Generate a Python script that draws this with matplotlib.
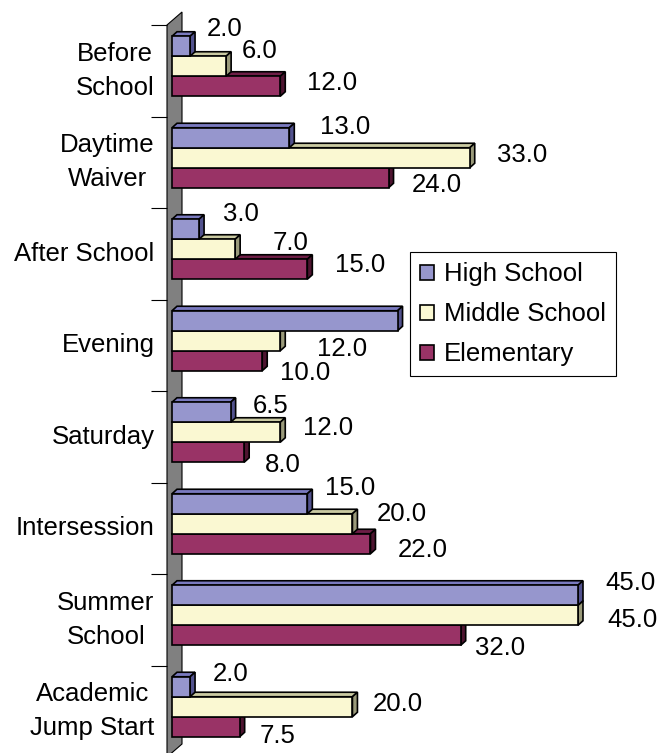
import numpy as np
import matplotlib
matplotlib.use("Agg")
from matplotlib import pyplot as plt
from matplotlib.patches import Polygon

plt.rcParams['font.family'] = ['Liberation Sans', 'DejaVu Sans']

categories = ["Before\nSchool", "Daytime\nWaiver", "After School", "Evening",
              "Saturday", "Intersession", "Summer\nSchool", "Academic\nJump Start"]
series = ["High School", "Middle School", "Elementary"]
high = [2.0, 13.0, 3.0, 25.0, 6.5, 15.0, 45.0, 2.0]
middle = [6.0, 33.0, 7.0, 12.0, 12.0, 20.0, 45.0, 20.0]
elem = [12.0, 24.0, 15.0, 10.0, 8.0, 22.0, 32.0, 7.5]

# label nudges in pixels (right, down) from the bar end / bar centre
nudge_high = [(17, -17), (31, -11), (24, -15), (25, -12), (22, -6), (18, -16), (27, -12), (23, -13)]
nudge_mid = [(16, -15), (27, -3), (37, -6), (37, 8), (23, -4), (24, -10), (29, 5), (20, -3)]
nudge_elem = [(27, -3), (23, 7), (28, -4), (18, 12), (21, 13), (27, 6), (14, 13), (20, 9)]
# the evening high school label sits behind the legend in the original
hidden = [(0, 3)]

# front, top, side colours
faces = [("#9696CD", "#7A7ABF", "#52528E"),
         ("#FAF8D2", "#CACAA2", "#9A9A7A"),
         ("#993366", "#6E1E46", "#4E1430")]

FS = 18.5
W, H = 657, 753
fig = plt.figure(figsize=(W / 100, H / 100), dpi=100)
left_px, top_px, bot_px = 167, 25, 757
ax = fig.add_axes([left_px / W, (H - bot_px) / H, (W - left_px) / W, (bot_px - top_px) / H])

px_x = 9.022                     # pixels per unit of value
px_y = (bot_px - top_px) / 8.0   # pixels per category slot
ax.set_xlim(0, (W - left_px) / px_x)
ax.set_ylim(8, 0)

ddx, ddy = 5 / px_x, 4.5 / px_y   # bar depth
x0 = ddx
bh = 20 / px_y

# side wall
wdx, wdy = 15 / px_x, 13 / px_y
wall = Polygon([(0, 0), (0, 8), (wdx, 8 - wdy), (wdx, -wdy)], closed=True,
               facecolor="#808080", edgecolor="black", lw=0.8, clip_on=False, zorder=1)
ax.add_patch(wall)

y = np.arange(len(categories)) + 0.5 - ddy
data = [high, middle, elem]
nudges = [nudge_high, nudge_mid, nudge_elem]
offs = [-bh, 0, bh]
handles = [None] * 3
for k in [2, 1, 0]:
    vals = data[k]
    fc, tc, sc = faces[k]
    yc = y + offs[k]
    z = 2 + (2 - k)
    for v, c in zip(vals, yc):
        ytop, ybot = c - bh / 2, c + bh / 2
        top = Polygon([(x0, ytop), (x0 + v, ytop), (x0 + v + ddx, ytop - ddy), (x0 + ddx, ytop - ddy)],
                      closed=True, facecolor=tc, edgecolor="black", lw=1.2, zorder=z)
        side = Polygon([(x0 + v, ytop), (x0 + v, ybot), (x0 + v + ddx, ybot - ddy), (x0 + v + ddx, ytop - ddy)],
                       closed=True, facecolor=sc, edgecolor="black", lw=1.2, zorder=z)
        ax.add_patch(top)
        ax.add_patch(side)
    bars = ax.barh(yc, vals, height=bh, left=x0, color=fc, edgecolor="black", lw=1.2,
                   zorder=z + 0.5, label=series[k])
    handles[k] = bars
    for i, (v, c, (dx, dy)) in enumerate(zip(vals, yc, nudges[k])):
        if (k, i) in hidden:
            continue
        ax.annotate("%.1f" % v, xy=(x0 + v, c), xytext=(dx, -dy), textcoords="offset pixels",
                    ha="left", va="center", fontsize=FS, zorder=8)

ax.set_yticks(np.arange(len(categories)) + 0.5, categories, fontsize=FS,
              multialignment="center", linespacing=1.55, verticalalignment="center")
ax.set_yticks(np.arange(0, 9), minor=True)
ax.tick_params(axis="y", which="major", length=0, pad=9)
ax.tick_params(axis="y", which="minor", length=11.5, width=0.8, direction="out")
ax.set_xticks([])
for s in ax.spines.values():
    s.set_visible(False)

leg = ax.legend(handles=handles, labels=series, loc="upper left",
                bbox_to_anchor=(410 / W, 1 - 252 / H), bbox_transform=fig.transFigure,
                borderaxespad=0, fontsize=FS, frameon=True, fancybox=False, shadow=False,
                framealpha=1, edgecolor="black", handlelength=0.52, handleheight=0.52,
                handletextpad=0.4, labelspacing=0.62, borderpad=0.4)
leg.get_frame().set_linewidth(0.8)
leg.set_zorder(10)

fig.savefig("out.png", dpi=100)
